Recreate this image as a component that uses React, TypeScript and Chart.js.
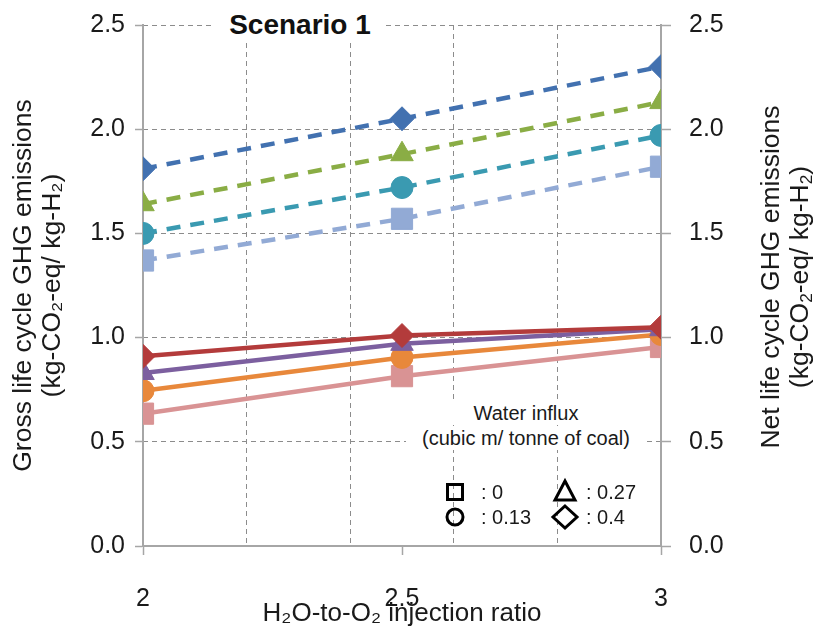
import React, { useEffect, useRef } from "react";
import { Chart, registerables } from "chart.js";

Chart.register(...registerables);

// ---- data ----
const injectionRatios = [2, 2.5, 3];
const grossInflux0 = [0.635, 0.815, 0.955];
const grossInflux013 = [0.745, 0.905, 1.015];
const grossInflux027 = [0.83, 0.97, 1.04];
const grossInflux04 = [0.91, 1.01, 1.05];
const netInflux0 = [1.37, 1.57, 1.82];
const netInflux013 = [1.5, 1.72, 1.97];
const netInflux027 = [1.64, 1.88, 2.13];
const netInflux04 = [1.81, 2.05, 2.3];
const xTickValues = [2, 2.5, 3];
const xGridValues = [2.2, 2.4, 2.6, 2.8];
const yTickValues = [0, 0.5, 1, 1.5, 2, 2.5];
const yGridValues = [0.5, 1, 1.5, 2, 2.5];
const legendLabels = [": 0", ": 0.13", ": 0.27", ": 0.4"];

const FONT = "'Liberation Sans', Arial, Helvetica, sans-serif";
const TEXT = "#1a1a1a";
const AXIS = "#a6a6a6";
const GRID = "#8c8c8c";

function series(label: string, values: number[], color: string, style: string, radius: number, dashed: boolean, axis: string) {
  return {
    label,
    data: injectionRatios.map((x, i) => ({ x, y: values[i] })),
    borderColor: color,
    backgroundColor: color,
    pointBackgroundColor: color,
    pointBorderColor: color,
    pointBorderWidth: 1,
    pointStyle: style,
    pointRadius: radius,
    pointHoverRadius: radius,
    borderWidth: 4.5,
    borderDash: dashed ? [14, 10] : [],
    showLine: true,
    tension: 0,
    xAxisID: "x",
    yAxisID: axis,
  };
}

export default function App() {
  const ref = useRef<HTMLCanvasElement | null>(null);

  useEffect(() => {
    if (!ref.current) return;
    const tickFont = { family: FONT, size: 25 };
    const chart = new Chart(ref.current, {
      type: "scatter",
      data: {
        datasets: [
          series("Net, 0.4", netInflux04, "#4271b0", "rectRot", 12, true, "y2"),
          series("Net, 0.27", netInflux027, "#8aad45", "triangle", 13, true, "y2"),
          series("Net, 0.13", netInflux013, "#3a9ab1", "circle", 11, true, "y2"),
          series("Net, 0", netInflux0, "#92aad5", "rect", 15, true, "y2"),
          series("Gross, 0.4", grossInflux04, "#b33b3b", "rectRot", 12, false, "y"),
          series("Gross, 0.27", grossInflux027, "#7c5f9f", "triangle", 13, false, "y"),
          series("Gross, 0.13", grossInflux013, "#e8883b", "circle", 11, false, "y"),
          series("Gross, 0", grossInflux0, "#d99394", "rect", 15, false, "y"),
        ] as any,
      },
      options: {
        responsive: false,
        animation: false,
        devicePixelRatio: 1,
        layout: { padding: { top: 25, left: 0, right: 0, bottom: 0 } },
        plugins: { legend: { display: false }, tooltip: { enabled: false } },
        scales: {
          x: {
            type: "linear",
            position: "bottom",
            min: 2,
            max: 3,
            afterBuildTicks: (s: any) => { s.ticks = xTickValues.map((v) => ({ value: v })); },
            afterFit: (s: any) => { s.height = 86; },
            ticks: { font: tickFont, color: TEXT, padding: 29, maxRotation: 0, autoSkip: false, callback: (v: any) => String(v) },
            grid: { drawOnChartArea: false, drawTicks: true, tickLength: 9, tickColor: AXIS, tickWidth: 1.5 },
            border: { display: true, color: AXIS, width: 2 },
            title: { display: true, text: "H₂O-to-O₂ injection ratio", font: { family: FONT, size: 26 }, color: TEXT, padding: { top: 0, bottom: 3 } },
          },
          xGrid: {
            type: "linear",
            position: "bottom",
            min: 2,
            max: 3,
            afterBuildTicks: (s: any) => { s.ticks = xGridValues.map((v) => ({ value: v })); },
            afterFit: (s: any) => { s.height = 0; },
            ticks: { display: false },
            grid: { color: GRID, lineWidth: 1, drawTicks: false },
            border: { display: false, dash: [5, 4] },
          },
          y: {
            type: "linear",
            position: "left",
            min: 0,
            max: 2.5,
            afterBuildTicks: (s: any) => { s.ticks = yTickValues.map((v) => ({ value: v })); },
            afterFit: (s: any) => { s.width = 143; },
            ticks: { font: { family: FONT, size: 25, lineHeight: 0.5 }, color: TEXT, padding: 10, callback: (v: any) => Number(v).toFixed(1) },
            grid: { drawOnChartArea: false, drawTicks: true, tickLength: 8, tickColor: AXIS, tickWidth: 1.5 },
            border: { display: true, color: AXIS, width: 2 },
            title: {
              display: true,
              text: ["Gross life cycle GHG emissions", "(kg-CO₂-eq/ kg-H₂)"],
              font: { family: FONT, size: 26.5, lineHeight: 1.1 },
              color: TEXT,
              padding: { top: 9, bottom: 0 },
            },
          },
          yGrid: {
            type: "linear",
            position: "left",
            min: 0,
            max: 2.5,
            afterBuildTicks: (s: any) => { s.ticks = yGridValues.map((v) => ({ value: v })); },
            afterFit: (s: any) => { s.width = 0; },
            ticks: { display: false },
            grid: { color: GRID, lineWidth: 1, drawTicks: false },
            border: { display: false, dash: [5, 4] },
          },
          y2: {
            type: "linear",
            position: "right",
            min: 0,
            max: 2.5,
            afterBuildTicks: (s: any) => { s.ticks = yTickValues.map((v) => ({ value: v })); },
            afterFit: (s: any) => { s.width = 160; },
            ticks: { font: { family: FONT, size: 25, lineHeight: 0.5 }, color: TEXT, padding: 18, callback: (v: any) => Number(v).toFixed(1) },
            grid: { drawOnChartArea: false, drawTicks: true, tickLength: 10, tickColor: AXIS, tickWidth: 1.5 },
            border: { display: true, color: AXIS, width: 2 },
          },
        } as any,
      },
    });
    return () => chart.destroy();
  }, []);

  const legendText: React.CSSProperties = {
    position: "absolute",
    fontFamily: FONT,
    fontSize: 20,
    lineHeight: "24px",
    color: TEXT,
    whiteSpace: "nowrap",
  };
  const sub: React.CSSProperties = { fontSize: "0.65em", verticalAlign: "-0.25em", lineHeight: 0 };

  return (
    <div style={{ position: "fixed", left: 0, top: 0, width: 821, height: 632, background: "#fff", overflow: "hidden" }}>
      <canvas ref={ref} width={821} height={632} style={{ display: "block", width: 821, height: 632 }} />
      {/* chart title */}
      <div
        style={{
          position: "absolute", left: 215, top: 9, width: 170, height: 32, background: "#fff",
          fontFamily: FONT, fontWeight: "bold", fontSize: 28, lineHeight: "32px", textAlign: "center", color: "#111",
        }}
      >
        Scenario 1
      </div>
      {/* right axis title */}
      <div
        style={{
          position: "absolute", left: 785, top: 277, width: 440, height: 58,
          transform: "translate(-50%, -50%) rotate(-90deg)",
          fontFamily: FONT, fontSize: 26.5, lineHeight: "29px", textAlign: "center", color: TEXT, whiteSpace: "nowrap",
        }}
      >
        <div>Net life cycle GHG emissions</div>
        <div>(kg-CO<span style={sub}>2</span>-eq/ kg-H<span style={sub}>2</span>)</div>
      </div>
      {/* legend */}
      <div style={{ ...legendText, left: 406, top: 401, width: 240, textAlign: "center", background: "#fff" }}>Water influx</div>
      <div style={{ ...legendText, left: 406, top: 426, width: 240, textAlign: "center", background: "#fff" }}>(cubic m/ tonne of coal)</div>
      <svg style={{ position: "absolute", left: 440, top: 475 }} width={200} height={60}>
        <rect x={7.5} y={9.5} width={15} height={15} fill="none" stroke="#000" strokeWidth={3} />
        <circle cx={15} cy={42} r={8} fill="none" stroke="#000" strokeWidth={3} />
        <polygon points="125,6 135,25 115,25" fill="none" stroke="#000" strokeWidth={3} strokeLinejoin="miter" />
        <polygon points="125,31 137,42 125,53 113,42" fill="none" stroke="#000" strokeWidth={3} />
      </svg>
      <div style={{ ...legendText, left: 481, top: 480 }}>{legendLabels[0]}</div>
      <div style={{ ...legendText, left: 481, top: 505 }}>{legendLabels[1]}</div>
      <div style={{ ...legendText, left: 586, top: 480 }}>{legendLabels[2]}</div>
      <div style={{ ...legendText, left: 586, top: 505 }}>{legendLabels[3]}</div>
    </div>
  );
}
